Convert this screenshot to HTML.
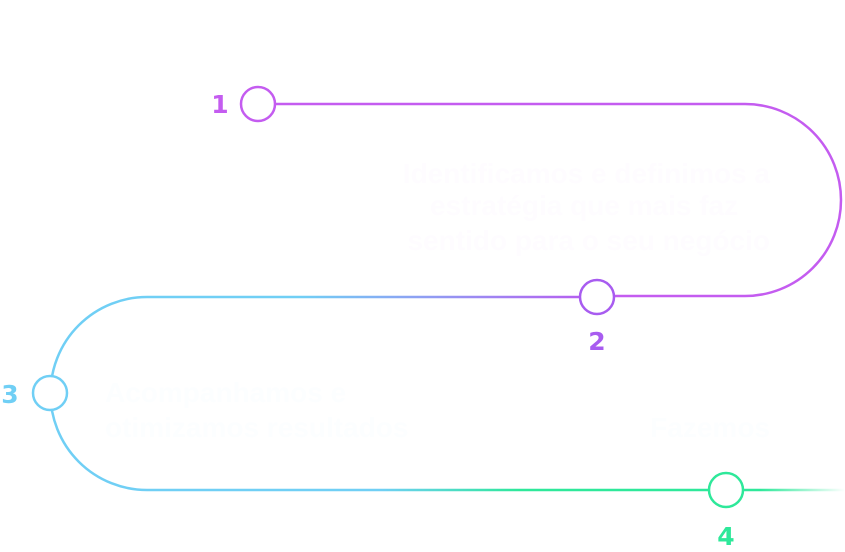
<!DOCTYPE html>
<html><head><meta charset="utf-8"><style>
html,body{margin:0;padding:0;background:#fff;width:845px;height:552px;overflow:hidden}
svg{display:block}
</style></head><body>
<svg width="845" height="552" viewBox="0 0 845 552" xmlns="http://www.w3.org/2000/svg">
<defs>
<linearGradient id="g1" gradientUnits="userSpaceOnUse" x1="590" y1="0" x2="300" y2="0">
<stop offset="0" stop-color="#b85cf0"/><stop offset="1" stop-color="#70cff5"/></linearGradient>
<linearGradient id="g2" gradientUnits="userSpaceOnUse" x1="380" y1="0" x2="520" y2="0">
<stop offset="0" stop-color="#70cff5"/><stop offset="1" stop-color="#2ee89a"/></linearGradient>
<linearGradient id="g3" gradientUnits="userSpaceOnUse" x1="760" y1="0" x2="845" y2="0">
<stop offset="0" stop-color="#2ee89a"/><stop offset="1" stop-color="#2ee89a" stop-opacity="0"/></linearGradient>
</defs>
<g fill="none" stroke-width="2.5">
<path d="M275 104 H745 A96 96 0 0 1 745 296 H614" stroke="#c45cf0"/>
<path d="M580 297 H147" stroke="url(#g1)"/>
<path d="M147 297 A96.5 96.5 0 0 0 147 490" stroke="#70cff5"/>
<path d="M147 490 H709" stroke="url(#g2)"/>
<path d="M743 490 H845" stroke="url(#g3)"/>
<circle cx="258" cy="104" r="17" stroke="#c45cf0" fill="#fff"/>
<circle cx="597" cy="297" r="17" stroke="#a85cf0" fill="#fff"/>
<circle cx="50" cy="393" r="17" stroke="#70cff5" fill="#fff"/>
<circle cx="726" cy="490" r="17" stroke="#2ee89a" fill="#fff"/>
</g>
<g font-family="DejaVu Sans, sans-serif" font-weight="bold" font-size="25">
<text x="220" y="113" fill="#c45cf0" text-anchor="middle">1</text>
<text x="597" y="350" fill="#a85cf0" text-anchor="middle">2</text>
<text x="10" y="403" fill="#70cff5" text-anchor="middle">3</text>
<text x="726" y="545" fill="#2ee89a" text-anchor="middle">4</text>
</g>
<g font-family="Liberation Sans, sans-serif" font-weight="bold" font-size="28" fill="#fefcff">
<text x="770" y="183" text-anchor="end">Identificamos e definimos a</text>
<text x="430" y="215">estratégia que mais faz</text>
<text x="770" y="250" text-anchor="end">sentido para o seu negócio</text>
</g>
<g font-family="Liberation Sans, sans-serif" font-weight="bold" font-size="28" fill="#fcfeff">
<text x="105" y="402">Acompanhamos e</text>
<text x="105" y="437">otimizamos resultados</text>
<text x="770" y="437" text-anchor="end">Fazemos</text>
</g>
</svg>
</body></html>
